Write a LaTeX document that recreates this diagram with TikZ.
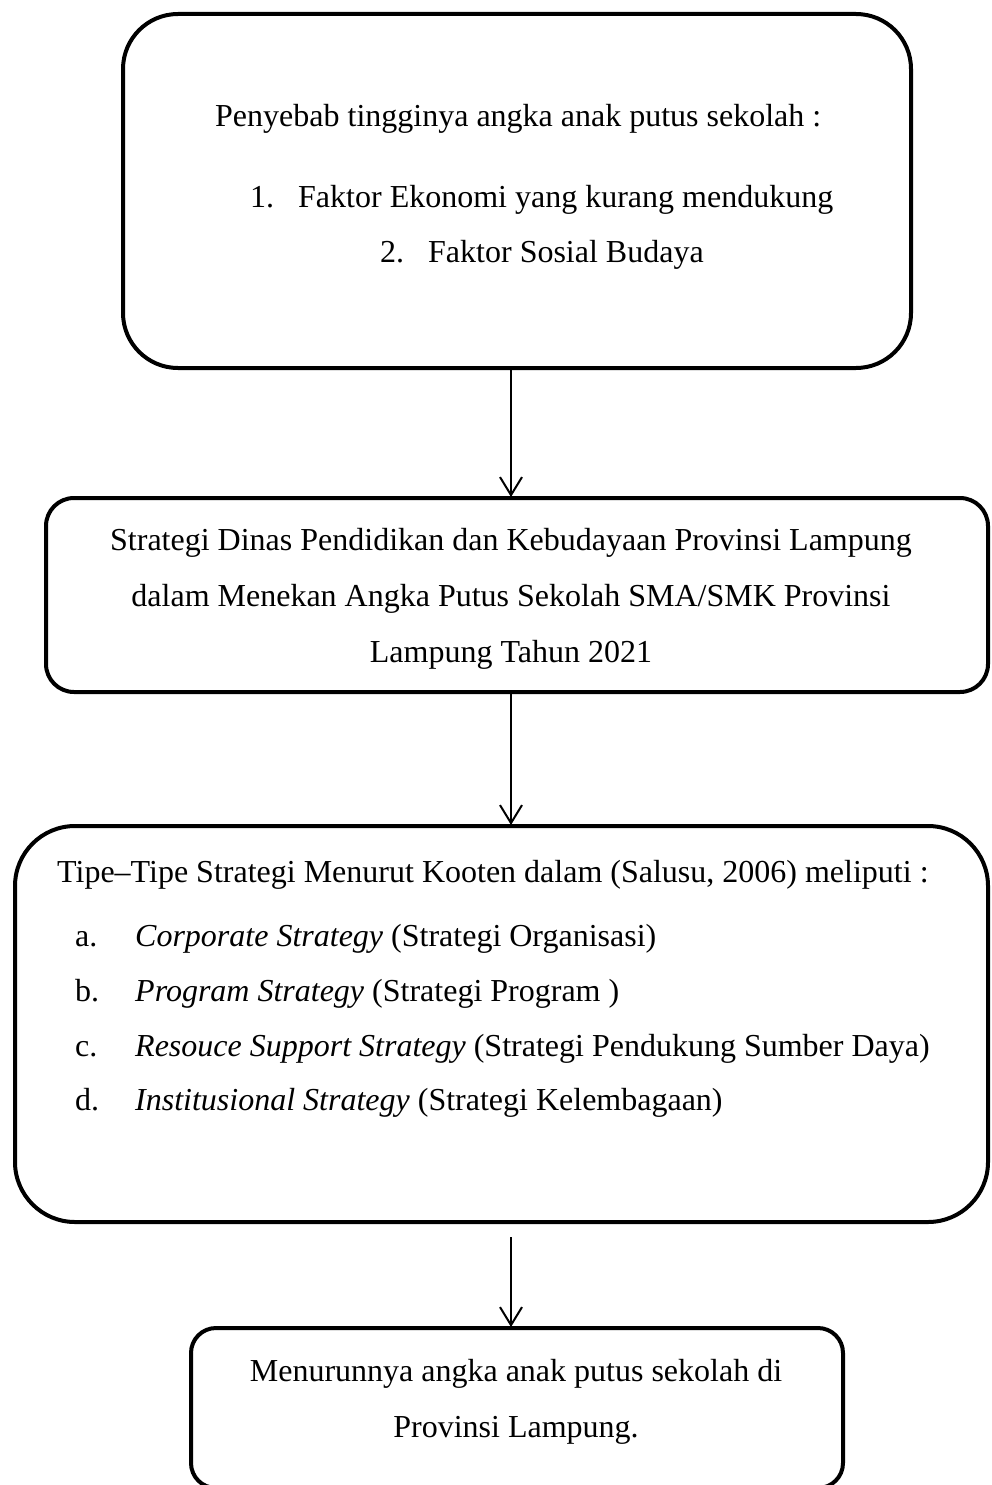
\documentclass[tikz,border=0pt]{standalone}
\usepackage{fontspec}
\setmainfont{Liberation Serif}
\usetikzlibrary{arrows.meta}
\begin{document}
\begin{tikzpicture}[x=1pt,y=-1pt,
  box/.style={draw=black, line width=4pt, minimum width=#1},
  arr/.style={line width=2pt, -{Straight Barb[length=18pt,width=22pt,line width=2pt]}},
  txt/.style={inner sep=0pt, font=\fontsize{32}{38}\selectfont},
  lft/.style={txt, anchor=base west},
  ctr/.style={txt, anchor=base}]
\useasboundingbox (0,0) rectangle (991,1485);
\begin{scope}
\clip (0,0) rectangle (991,1485);
% boxes
\node[box=788pt, minimum height=354pt, rounded corners=55pt] (b1) at (517,191) {};
\node[box=942pt, minimum height=194pt, rounded corners=28pt] (b2) at (517,595) {};
\node[box=973pt, minimum height=396pt, rounded corners=60pt] (b3) at (501.5,1024) {};
\node[box=652pt, minimum height=160pt, rounded corners=25pt] (b4) at (517,1408) {};
\end{scope}
\coordinate (ax) at (511,0);
% texts box 1
\node[lft] (t11) at (215,127) {Penyebab tingginya angka anak putus sekolah :};
\node[lft] (n12) at (250,207) {1.};
\node[lft] (t12) at (298,207) {Faktor Ekonomi yang kurang mendukung};
\node[lft] (n13) at (380,262) {2.};
\node[lft] (t13) at (428,262) {Faktor Sosial Budaya};
% box 2
\node[ctr] (t21) at (511,550) {Strategi Dinas Pendidikan dan Kebudayaan Provinsi Lampung};
\node[ctr] (t22) at (511,606) {dalam Menekan Angka Putus Sekolah SMA/SMK Provinsi};
\node[ctr] (t23) at (511,662) {Lampung Tahun 2021};
% box 3
\node[lft] (t31) at (57,882) {Tipe--Tipe Strategi Menurut Kooten dalam (Salusu, 2006) meliputi :};
\node[lft] (na) at (75,946) {a.};
\node[lft] (ta) at (135,946) {\textit{Corporate Strategy} (Strategi Organisasi)};
\node[lft] (nb) at (75,1001) {b.};
\node[lft] (tb) at (135,1001) {\textit{Program Strategy} (Strategi Program )};
\node[lft] (nc) at (75,1056) {c.};
\node[lft] (tc) at (135,1056) {\textit{Resouce Support Strategy} (Strategi Pendukung Sumber Daya)};
\node[lft] (nd) at (75,1110) {d.};
\node[lft] (td) at (135,1110) {\textit{Institusional Strategy} (Strategi Kelembagaan)};
% box 4
\node[ctr] (t41) at (516,1381) {Menurunnya angka anak putus sekolah di};
\node[ctr] (t42) at (516,1437) {Provinsi Lampung.};
% arrows
\draw[arr] (b1.south -| ax) -- ([yshift=-1pt]b2.north -| ax);
\draw[arr] (b2.south -| ax) -- ([yshift=-1pt]b3.north -| ax);
\draw[arr] ([yshift=-13pt]b3.south -| ax) -- ([yshift=-1pt]b4.north -| ax);
\end{tikzpicture}
\end{document}
